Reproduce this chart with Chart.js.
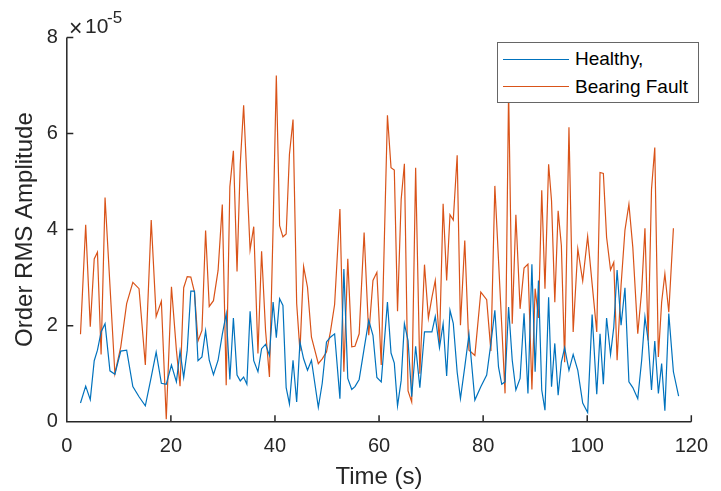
<!DOCTYPE html>
<html>
<head>
<meta charset="utf-8">
<title>Order RMS Amplitude</title>
<script src="https://cdn.jsdelivr.net/npm/chart.js@4.4.1/dist/chart.umd.min.js"></script>
<style>
  html, body { margin: 0; padding: 0; background: #fff; }
  #wrap { position: relative; width: 721px; height: 491px; }
  #legend {
    position: absolute; left: 497px; top: 42px; width: 200px; height: 59px;
    border: 1px solid #666; background: #fff;
    font: 19px "Liberation Sans", Arial, sans-serif; color: #000;
  }
  .legend-row { position: absolute; left: 0; height: 28px; display: flex; align-items: center; white-space: nowrap; }
  .legend-line { display: inline-block; width: 66px; height: 0; margin-left: 5px; border-top: 1px solid; }
  .legend-text { margin-left: 6px; }
</style>
</head>
<body>
<div id="wrap">
  <canvas id="chart"></canvas>
  <div id="legend"></div>
</div>
<script>
'use strict';

const FONT = '"Liberation Sans", Arial, sans-serif';
const TEXT_COLOR = '#262626';

// values are in units of 1e-5 (axis exponent shown top-left)
const Y_EXPONENT = '-5';
const xTicks = [0, 20, 40, 60, 80, 100, 120];
const yTicks = [0, 2, 4, 6, 8];
const seriesLabels = ['Healthy,', 'Bearing Fault'];
const seriesColors = ['#0072BD', '#D95319'];

const time = [
  2.63, 3.63, 4.51, 5.27, 5.89, 6.59, 7.35, 8.29, 9.24, 10.37,
  11.50, 12.69, 13.88, 15.09, 16.22, 17.17, 18.17, 19.11, 20.11, 21.06,
  21.76, 22.46, 23.14, 23.83, 24.53, 25.21, 25.97, 26.67, 27.37, 28.18,
  29.07, 29.88, 30.63, 31.33, 32.01, 32.71, 33.33, 33.98, 34.60, 35.22,
  35.92, 36.73, 37.43, 38.19, 38.94, 39.64, 40.26, 40.89, 41.53, 42.15,
  42.78, 43.47, 44.17, 44.80, 45.50, 46.25, 47.01, 48.33, 49.08, 49.90,
  50.65, 51.46, 52.48, 53.24, 53.99, 54.75, 55.37, 56.18, 57.13, 58.02,
  58.83, 59.58, 60.42, 61.61, 62.30, 62.93, 63.55, 64.25, 64.87, 65.57,
  66.27, 67.03, 67.84, 68.73, 69.48, 70.16, 70.80, 71.61, 72.31, 72.99,
  73.63, 74.26, 75.01, 75.64, 76.47, 77.28, 78.41, 79.55, 80.68, 81.49,
  82.25, 82.95, 83.57, 84.21, 84.89, 85.59, 86.29, 87.10, 87.86, 88.61,
  89.37, 89.99, 90.63, 91.26, 91.88, 92.58, 93.14, 93.77, 94.41, 95.03,
  95.66, 96.49, 97.30, 98.19, 99.13, 100.08, 100.94, 101.83, 102.46, 103.10,
  103.72, 104.48, 105.10, 105.74, 106.50, 107.25, 108.01, 108.76, 109.71, 110.46,
  111.09, 111.71, 112.35, 112.98, 113.67, 114.30, 114.92, 115.67, 116.56, 117.56
];

const healthy = [
  0.39, 0.74, 0.46, 1.27, 1.49, 1.87, 2.04, 1.06, 0.99, 1.47,
  1.49, 0.73, 0.52, 0.33, 0.93, 1.45, 0.80, 0.78, 1.18, 0.83,
  1.47, 0.92, 1.49, 2.72, 2.72, 1.27, 1.35, 1.89, 1.28, 0.98,
  1.28, 1.82, 2.25, 0.88, 2.16, 0.97, 0.85, 0.93, 0.78, 2.30,
  1.27, 1.04, 1.52, 1.61, 1.38, 2.49, 1.75, 2.56, 2.42, 0.71,
  0.37, 1.28, 0.41, 1.66, 1.31, 1.07, 1.28, 0.30, 0.80, 1.66,
  1.76, 1.83, 0.48, 3.18, 0.90, 0.67, 0.73, 0.88, 1.52, 2.11,
  1.80, 0.92, 0.83, 2.49, 1.43, 1.22, 0.33, 0.86, 2.04, 1.69,
  0.52, 1.57, 0.71, 1.87, 1.87, 1.87, 2.19, 1.54, 2.04, 0.95,
  2.32, 2.05, 1.03, 0.48, 1.14, 1.82, 0.45, 0.73, 0.97, 1.63,
  2.32, 1.14, 0.78, 0.83, 2.39, 1.28, 0.66, 0.90, 2.26, 0.59,
  3.28, 1.04, 2.94, 0.66, 0.24, 2.59, 0.73, 1.63, 0.55, 1.24,
  1.54, 1.07, 1.40, 1.07, 0.39, 0.19, 2.23, 0.57, 1.83, 0.78,
  2.16, 1.40, 1.97, 3.16, 2.01, 2.79, 0.83, 0.71, 0.48, 1.28,
  2.18, 1.69, 0.66, 1.68, 0.59, 1.21, 0.23, 2.25, 1.04, 0.53
];

const bearingFault = [
  1.82, 4.10, 1.98, 3.39, 3.53, 1.40, 4.67, 2.84, 1.00, 1.56,
  2.46, 2.90, 2.77, 1.18, 4.20, 2.19, 2.51, 0.05, 2.81, 1.49,
  0.74, 2.79, 3.02, 3.01, 2.70, 1.68, 1.90, 3.98, 2.40, 2.52,
  3.15, 4.52, 0.76, 4.89, 5.64, 3.13, 5.36, 6.59, 5.08, 3.58,
  4.06, 1.42, 3.55, 1.90, 0.93, 4.05, 7.21, 4.08, 3.85, 3.91,
  5.57, 6.29, 2.46, 1.47, 3.23, 2.80, 1.76, 1.21, 1.31, 1.45,
  1.87, 2.44, 4.43, 1.04, 3.39, 1.56, 1.57, 1.83, 3.94, 1.80,
  2.94, 3.11, 1.18, 6.38, 5.29, 5.24, 2.30, 4.63, 5.37, 0.64,
  0.41, 5.29, 1.00, 3.27, 2.16, 2.59, 2.94, 1.63, 4.54, 2.94,
  4.31, 4.20, 5.55, 2.01, 3.77, 1.49, 1.38, 2.70, 2.54, 1.47,
  4.91, 3.37, 2.01, 0.59, 6.90, 2.04, 4.31, 2.35, 3.20, 3.28,
  0.67, 2.77, 2.16, 4.82, 2.77, 5.36, 4.60, 2.49, 4.39, 3.67,
  1.24, 6.13, 1.87, 3.60, 2.93, 3.86, 2.87, 1.87, 5.19, 5.17,
  3.84, 3.16, 3.32, 1.28, 2.84, 3.99, 4.53, 3.63, 1.83, 2.73,
  4.03, 1.69, 4.84, 5.71, 1.35, 2.49, 3.08, 2.28, 4.03, null
];

const toPoints = ys => time.map((t, i) => ({ x: t, y: ys[i] }));

/* MATLAB-style axes: left + bottom lines, inward ticks, exponent label */
const matlabAxes = {
  id: 'matlabAxes',
  afterDatasetsDraw(chart) {
    const { ctx, chartArea: a, scales: { x, y } } = chart;
    const tick = 6.5;
    ctx.save();
    ctx.strokeStyle = TEXT_COLOR;
    ctx.lineWidth = 1.5;
    ctx.beginPath();
    ctx.moveTo(a.left, a.top);
    ctx.lineTo(a.left, a.bottom);
    ctx.lineTo(a.right, a.bottom);
    xTicks.forEach(v => {
      const px = x.getPixelForValue(v);
      ctx.moveTo(px, a.bottom);
      ctx.lineTo(px, a.bottom - tick);
    });
    yTicks.forEach(v => {
      const py = y.getPixelForValue(v);
      ctx.moveTo(a.left, py);
      ctx.lineTo(a.left + tick, py);
    });
    ctx.stroke();

    ctx.fillStyle = TEXT_COLOR;
    ctx.textBaseline = 'alphabetic';
    ctx.textAlign = 'left';
    ctx.font = '23px ' + FONT;
    ctx.fillText('\u00d7', a.left + 2.2, a.top - 2);
    ctx.font = '21px ' + FONT;
    ctx.fillText('10', a.left + 18.2, a.top - 4.8);
    ctx.font = '17px ' + FONT;
    ctx.fillText(Y_EXPONENT, a.left + 40.2, a.top - 14.8);
    ctx.restore();
  }
};

const chart = new Chart(document.getElementById('chart'), {
  type: 'line',
  data: {
    datasets: [healthy, bearingFault].map((ys, i) => ({
      label: seriesLabels[i],
      data: toPoints(ys),
      borderColor: seriesColors[i],
      backgroundColor: seriesColors[i],
      borderWidth: 1.2,
      pointRadius: 0,
      tension: 0,
      spanGaps: false
    }))
  },
  options: {
    animation: false,
    responsive: true,
    maintainAspectRatio: false,
    layout: { padding: { top: 37.5, right: 18.9, left: 0, bottom: 0 } },
    plugins: { legend: { display: false }, tooltip: { enabled: false } },
    scales: {
      x: {
        type: 'linear', min: 0, max: 120,
        afterBuildTicks: s => { s.ticks = xTicks.map(v => ({ value: v })); },
        ticks: { color: TEXT_COLOR, font: { family: FONT, size: 20 }, padding: 13, maxRotation: 0, autoSkip: false },
        grid: { display: false, drawTicks: false },
        border: { display: false },
        title: { display: true, text: 'Time (s)', color: TEXT_COLOR,
                 font: { family: FONT, size: 24, lineHeight: 1.1 }, padding: { top: 0, bottom: 0 } },
        afterFit: s => { s.height = 69.3; }
      },
      y: {
        type: 'linear', min: 0, max: 8,
        afterBuildTicks: s => { s.ticks = yTicks.map(v => ({ value: v })); },
        ticks: { color: TEXT_COLOR, font: { family: FONT, size: 20 }, padding: 9 },
        grid: { display: false, drawTicks: false },
        border: { display: false },
        title: { display: true, text: 'Order RMS Amplitude', color: TEXT_COLOR,
                 font: { family: FONT, size: 24, lineHeight: 1.1 }, padding: { top: 11.8, bottom: 0 } },
        afterFit: s => { s.width = 66.8; }
      }
    }
  },
  plugins: [matlabAxes]
});

// boxed legend, built from the datasets
const legend = document.getElementById('legend');
chart.data.datasets.forEach((ds, i) => {
  const row = document.createElement('div');
  row.className = 'legend-row';
  row.style.top = (2 + i * 27.7) + 'px';
  row.innerHTML = `<span class="legend-line" style="border-color:${ds.borderColor}"></span>` +
                  `<span class="legend-text">${ds.label}</span>`;
  legend.appendChild(row);
});
</script>
</body>
</html>
